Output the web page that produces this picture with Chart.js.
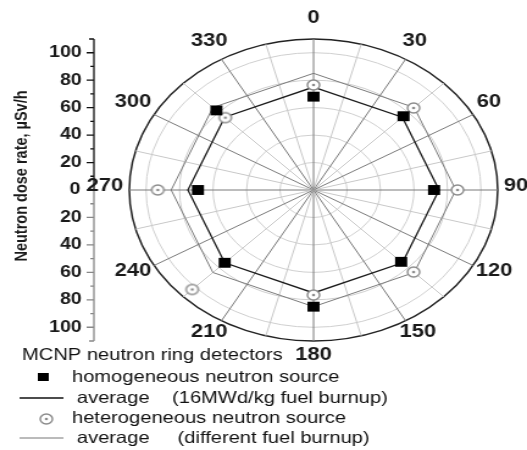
<!DOCTYPE html>
<html>
<head>
<meta charset="utf-8">
<script src="https://cdn.jsdelivr.net/npm/chart.js@4.4.0/dist/chart.umd.min.js"></script>
<style>
  html, body { margin: 0; padding: 0; background: #fff; }
  #wrap { width: 527px; height: 450px; overflow: hidden; }
  /* plot was exported with a wide aspect, so the polar grid comes out oval */
  #chart { display: block; transform: scaleX(1.2199); transform-origin: 0 0; }
</style>
</head>
<body>
<div id="wrap"><canvas id="chart" width="432" height="450"></canvas></div>
<script>
// one spoke every 15 degrees, labels on every 30
const spokeLabels = ['0', '15', '30', '45', '60', '75', '90', '105', '120', '135', '150', '165',
                     '180', '195', '210', '225', '240', '255', '270', '285', '300', '315', '330', '345'];

// MCNP ring detector positions (deg) and dose rates, uSv/h
const detectorAngles = [0, 45, 90, 135, 180, 225, 270, 315];
const homogeneous    = [68, 76, 72, 74, 85, 75, 69, 82];
const heterogeneous  = [76.5, 84.5, 86, 84.5, 76.5, 102.5, 93, 74.5];
const homogeneousAvg   = [75, 75, 75, 75, 75, 75, 75, 75];
const heterogeneousAvg = [85, 85, 85, 85, 85, 85, 85, 85];

const radialTicks = [0, 20, 40, 60, 80, 100, 110];
const axisLabels  = [20, 40, 60, 80, 100];
const minorTicks  = [10, 30, 50, 70, 90];
const rMax = 110;

const FONT = "'Liberation Sans', Arial, sans-serif";

// spread detector values onto the 24 spokes
function onSpokes(values) {
    const out = spokeLabels.map(() => null);
    detectorAngles.forEach((a, i) => { out[spokeLabels.indexOf(String(a))] = values[i]; });
    return out;
}

function ringMarker(color) {
    const c = document.createElement('canvas');
    c.width = 14; c.height = 14;
    const g = c.getContext('2d');
    g.lineWidth = 1.4;
    g.strokeStyle = color;
    g.fillStyle = '#fff';
    g.beginPath(); g.arc(7, 7, 5, 0, Math.PI * 2); g.fill(); g.stroke();
    g.fillStyle = color;
    g.beginPath(); g.arc(7, 7, 1.3, 0, Math.PI * 2); g.fill();
    return c;
}

// left dose axis, angle labels and the legend block
const decorations = {
    id: 'decorations',
    afterDraw(chart) {
        const ctx = chart.ctx;
        const r = chart.scales.r;
        const cy = r.yCenter;
        const d = v => r.getDistanceFromCenterForValue(v);
        const axisX = 77;

        ctx.save();
        // axis line: upper half dark, lower half grey
        ctx.lineWidth = 1.3;
        ctx.strokeStyle = '#111';
        ctx.beginPath();
        ctx.moveTo(axisX, cy - d(rMax)); ctx.lineTo(axisX, cy);
        ctx.moveTo(axisX, cy - d(rMax)); ctx.lineTo(axisX - 4, cy - d(rMax));
        [0].concat(axisLabels).forEach(v => { ctx.moveTo(axisX, cy - d(v)); ctx.lineTo(axisX - 6, cy - d(v)); });
        minorTicks.forEach(v => { ctx.moveTo(axisX, cy - d(v)); ctx.lineTo(axisX - 3, cy - d(v)); });
        ctx.stroke();
        ctx.strokeStyle = '#888';
        ctx.beginPath();
        ctx.moveTo(axisX, cy); ctx.lineTo(axisX, cy + d(rMax));
        ctx.moveTo(axisX, cy + d(rMax)); ctx.lineTo(axisX - 4, cy + d(rMax));
        axisLabels.forEach(v => { ctx.moveTo(axisX, cy + d(v)); ctx.lineTo(axisX - 6, cy + d(v)); });
        minorTicks.forEach(v => { ctx.moveTo(axisX, cy + d(v)); ctx.lineTo(axisX - 3, cy + d(v)); });
        ctx.stroke();

        ctx.fillStyle = '#1a1a1a';
        ctx.font = 'bold 16px ' + FONT;
        ctx.textAlign = 'right';
        ctx.textBaseline = 'middle';
        axisLabels.forEach(v => {
            ctx.fillText(String(v), axisX - 10, cy - d(v));
            ctx.fillText(String(v), axisX - 10, cy + d(v));
        });
        ctx.fillText('0', axisX - 11, cy);

        // axis title
        ctx.save();
        ctx.translate(18, 176);
        ctx.rotate(-Math.PI / 2);
        ctx.textAlign = 'center';
        ctx.font = 'bold 14.5px ' + FONT;
        ctx.fillText('Neutron dose rate, \u00b5Sv/h', 0, 0);
        ctx.restore();

        // angle labels
        ctx.font = 'bold 18px ' + FONT;
        ctx.textAlign = 'center';
        spokeLabels.forEach((lbl, i) => {
            if (i % 2) return;
            const th = i * 15 * Math.PI / 180;
            const p = r.getPointPosition(i, d(rMax));
            const w = ctx.measureText(lbl).width;
            const x = p.x + Math.sin(th) * (5 + w / 2);
            const y = p.y - 17.5 * Math.cos(th) - 3.5;
            ctx.fillText(lbl, x, y);
        });

        // legend
        ctx.textAlign = 'left';
        ctx.font = '16.5px ' + FONT;
        ctx.fillStyle = '#111';
        ctx.fillText('MCNP neutron ring detectors', 18, 355);
        ctx.fillText('homogeneous neutron source', 59, 377);
        ctx.fillText('average    (16MWd/kg fuel burnup)', 63, 398);
        ctx.fillText('heterogeneous neutron source', 59, 418);
        ctx.fillText('average     (different fuel burnup)', 63, 438);

        ctx.fillStyle = '#000';
        ctx.fillRect(31, 373, 9, 8);
        ctx.lineWidth = 1.3;
        ctx.strokeStyle = '#111';
        ctx.beginPath(); ctx.moveTo(16, 398); ctx.lineTo(52, 398); ctx.stroke();
        ctx.lineWidth = 1;
        ctx.strokeStyle = '#777';
        ctx.beginPath(); ctx.moveTo(16, 438); ctx.lineTo(52, 438); ctx.stroke();
        ctx.drawImage(ringMarker('#8a8a8a'), 31, 412);
        ctx.restore();
    }
};

new Chart(document.getElementById('chart'), {
    type: 'radar',
    data: {
        labels: spokeLabels,
        datasets: [{
            label: 'homogeneous neutron source',
            data: onSpokes(homogeneous),
            showLine: false,
            pointStyle: 'rect',
            pointRadius: 7,
            backgroundColor: '#000',
            borderColor: '#000',
            pointBorderWidth: 0
        }, {
            label: 'heterogeneous neutron source',
            data: onSpokes(heterogeneous),
            showLine: false,
            pointStyle: ringMarker('#8a8a8a'),
            pointRadius: 7
        }, {
            label: 'average (16MWd/kg fuel burnup)',
            data: onSpokes(homogeneousAvg),
            spanGaps: true,
            fill: false,
            borderColor: '#1a1a1a',
            borderWidth: 1.3,
            pointRadius: 0
        }, {
            label: 'average (different fuel burnup)',
            data: onSpokes(heterogeneousAvg),
            spanGaps: true,
            fill: false,
            borderColor: '#7a7a7a',
            borderWidth: 1,
            pointRadius: 0
        }]
    },
    options: {
        responsive: false,
        animation: false,
        layout: { padding: { left: 106, right: 24, top: 39, bottom: 109 } },
        plugins: { legend: { display: false }, tooltip: { enabled: false } },
        scales: {
            r: {
                min: 0,
                max: rMax,
                startAngle: 0,
                afterBuildTicks: s => { s.ticks = radialTicks.map(v => ({ value: v })); },
                ticks: { display: false },
                pointLabels: { display: false },
                grid: {
                    circular: true,
                    color: c => c.tick.value === rMax ? '#222' : '#cfcfcf',
                    lineWidth: c => c.tick.value === rMax ? 1.5 : 1
                },
                angleLines: {
                    color: c => c.index % 2 === 0 ? '#7a7a7a' : '#c8c8c8',
                    lineWidth: 1
                }
            }
        }
    },
    plugins: [decorations]
});
</script>
</body>
</html>
